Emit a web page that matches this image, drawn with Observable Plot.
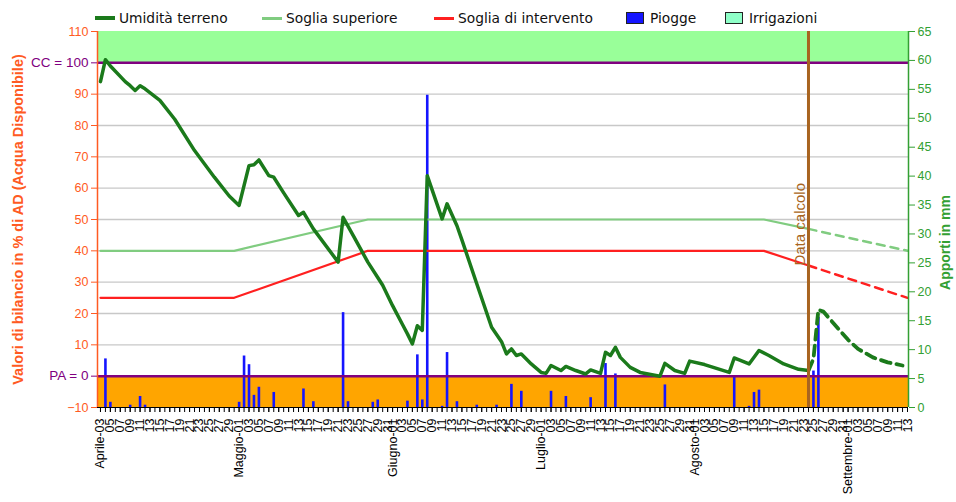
<!DOCTYPE html>
<html>
<head>
<meta charset="utf-8">
<script src="https://cdn.jsdelivr.net/npm/d3@7"></script>
<script src="https://cdn.jsdelivr.net/npm/@observablehq/plot@0.6"></script>
<style>
  body { margin: 0; background: #fff; font-family: "Liberation Sans", Arial, sans-serif; }
  #legend { position: relative; width: 956px; height: 26px; font-family: "DejaVu Sans", sans-serif; font-size: 13.8px; color: #111; }
  .li { position: absolute; top: 10px; height: 16px; display: flex; align-items: center; white-space: nowrap; }
  .sw-line { width: 20px; margin-right: 4px; }
  .sw-box { width: 16px; height: 10px; border: 1px solid #222; margin-right: 6px; }
  #chart svg { display: block; }
</style>
</head>
<body>
<div id="legend"></div>
<div id="chart"></div>
<script>
// ---------------- data ----------------
const moistDates = ["04-03","04-04","04-05","04-08","04-09","04-10","04-11","04-12","04-15","04-18","04-22","04-26","04-29",
  "05-01","05-03","05-04","05-05","05-07","05-08","05-10","05-13","05-14","05-16","05-21","05-22","05-24","05-27","05-29","05-30",
  "06-01","06-03","06-04","06-05","06-06","06-07","06-08","06-11","06-12","06-14","06-15","06-18","06-21","06-23","06-24","06-25","06-26","06-27","06-29",
  "07-01","07-02","07-03","07-05","07-06","07-08","07-10","07-11","07-13","07-14","07-15","07-16","07-17","07-19","07-21","07-25","07-26","07-28","07-30","07-31",
  "08-03","08-08","08-09","08-10","08-12","08-14","08-16","08-19","08-22","08-24"];
const moistValues = [94,101,99,94,92.7,91.2,92.7,91.7,88,82,72,63.5,57.5,
  54.5,67.2,67.5,69,64,63.5,58.5,51.3,52.3,47,36.4,50.7,45,36.4,31.5,29,
  22.5,16.5,13.5,10.3,16.1,14.6,64,50.2,55,48,43.5,29.5,15.6,11,7.1,8.7,6.6,7.1,3.9,
  1.2,0.9,3.4,1.8,3.1,1.8,0.7,2.0,0.9,7.6,6.6,9.2,6.0,2.8,1.2,0,4.1,1.8,0.9,4.8,
  3.7,1.2,5.8,5.2,3.9,8.2,6.6,3.9,2.2,1.8];

const fcDates  = ["08-24","08-25","08-26","08-27","08-29","09-01","09-03","09-06","09-09","09-12"];
const fcValues = [1.8,5.5,21.2,20.6,17,11.6,8.7,6,4.4,3.4];

const supDates   = ["04-03","04-30","05-27","08-15","08-24"];
const supValues  = [40,40,50,50,47];
const supFcDates = ["08-24","09-13"];
const supFcValues= [47,40];

const intDates   = ["04-03","04-30","05-27","08-15","08-24"];
const intValues  = [25,25,40,40,35.3];
const intFcDates = ["08-24","09-13"];
const intFcValues= [35.3,25];

const rainDates = ["04-04","04-05","04-09","04-11","04-12","05-01","05-02","05-03","05-04","05-05","05-08","05-14","05-16",
  "05-22","05-23","05-28","05-29","06-04","06-06","06-07","06-08","06-11","06-12","06-14","06-18","06-22","06-25","06-27",
  "07-03","07-06","07-11","07-14","07-16","07-26","08-09","08-12","08-13","08-14","08-25","08-26"];
const rainMm = [8.4,0.9,0.4,1.9,0.4,0.9,8.9,7.4,2.1,3.5,2.6,3.2,1.0,
  16.4,1.0,0.9,1.3,1.1,9.1,1.3,54,0.2,9.5,1.0,0.4,0.4,4.0,2.8,
  2.8,1.9,1.7,7.6,5.8,3.9,5.3,0.2,2.6,3.0,6.3,15.6];

const calcDate = "08-24";
const firstDate = "04-03";
const lastDate = "09-13";

const leftTicks = [-10,10,20,30,40,50,60,70,80,90,110];
const specialTicks = [0,100];
const specialLabels = ["PA = 0","CC = 100"];
const gridValues = [10,20,30,40,50,60,70,80,90];
const rightTicks = [0,5,10,15,20,25,30,35,40,45,50,55,60,65];
const bandLow = [-10,0];
const bandHigh = [100,110];
const monthNames = ["Gennaio","Febbraio","Marzo","Aprile","Maggio","Giugno","Luglio","Agosto","Settembre","Ottobre","Novembre","Dicembre"];

const legendNames = ["Umidità terreno","Soglia superiore","Soglia di intervento","Piogge","Irrigazioni"];

// ---------------- styles ----------------
const C = {
  moist: "#1b7a1b", sup: "#80cc80", int: "#ff2020", rain: "#1515ff", irr: "#8fffc8",
  top: "#99ff99", bottom: "#ffa500", purple: "#800080", grid: "#c8c8c8",
  left: "#ff5a22", right: "#33a033", brown: "#a86420"
};
const legendLayout = [
  {left: 95, kind: "line", color: C.moist, h: 4},
  {left: 262, kind: "line", color: C.sup, h: 3},
  {left: 434, kind: "line", color: C.int, h: 3},
  {left: 626, kind: "box", color: C.rain},
  {left: 725, kind: "box", color: C.irr}
];

// ---------------- helpers ----------------
const DAY = 864e5;
const parse = s => new Date(`2023-${s}T00:00:00Z`);
const xDomain = [new Date(+parse(firstDate) - 0.6 * DAY), new Date(+parse(lastDate) + 0.2 * DAY)];
const toLeft = mm => -10 + mm * 120 / 65;
const zip = (ds, vs) => ds.map((d, i) => ({date: parse(d), v: vs[i]}));

const moist = zip(moistDates, moistValues);
const fc = zip(fcDates, fcValues);
const sup = zip(supDates, supValues);
const supFc = zip(supFcDates, supFcValues);
const int = zip(intDates, intValues);
const intFc = zip(intFcDates, intFcValues);
const rain = zip(rainDates, rainMm);

const allDays = d3.utcDay.range(parse(firstDate), new Date(+parse(lastDate) + DAY));
const labelDays = allDays.filter(d => d.getUTCDate() % 2 === 1);
const fmtX = d => {
  const dd = String(d.getUTCDate()).padStart(2, "0");
  return (d.getUTCDate() === 1 || +d === +allDays[0]) ? `${monthNames[d.getUTCMonth()]}-${dd}` : dd;
};

// ---------------- legend ----------------
const leg = document.getElementById("legend");
legendNames.forEach((name, i) => {
  const L = legendLayout[i];
  const item = document.createElement("div");
  item.className = "li";
  item.style.left = L.left + "px";
  const sw = document.createElement("div");
  if (L.kind === "line") {
    sw.className = "sw-line";
    sw.style.height = L.h + "px";
    sw.style.background = L.color;
  } else {
    sw.className = "sw-box";
    sw.style.background = L.color;
  }
  const t = document.createElement("span");
  t.textContent = name;
  item.appendChild(sw);
  item.appendChild(t);
  leg.appendChild(item);
});

// ---------------- chart ----------------
const calc = parse(calcDate);
const calcLabelY = intValues[intValues.length - 1];

const chart = Plot.plot({
  width: 956,
  height: 476,
  marginLeft: 97,
  marginRight: 48,
  marginTop: 5,
  marginBottom: 95,
  x: {type: "utc", domain: xDomain},
  y: {domain: [-10, 110]},
  style: {fontFamily: "Liberation Sans, Arial, sans-serif", fontSize: "12px", background: "#fff", overflow: "visible"},
  marks: [
    Plot.rect([bandHigh], {x1: () => xDomain[0], x2: () => xDomain[1], y1: d => d[0], y2: d => d[1], fill: C.top}),
    Plot.rect([bandLow], {x1: () => xDomain[0], x2: () => xDomain[1], y1: d => d[0], y2: d => d[1], fill: C.bottom}),
    Plot.ruleY(gridValues, {stroke: C.grid, strokeWidth: 1.3}),
    Plot.ruleX(rain, {x: "date", y1: -10, y2: d => toLeft(d.v), stroke: C.rain, strokeWidth: 2.6}),
    Plot.ruleY(specialTicks, {stroke: C.purple, strokeWidth: 2.5}),
    Plot.line(sup, {x: "date", y: "v", stroke: C.sup, strokeWidth: 2.2}),
    Plot.line(supFc, {x: "date", y: "v", stroke: C.sup, strokeWidth: 2.5, strokeDasharray: "8,6"}),
    Plot.line(int, {x: "date", y: "v", stroke: C.int, strokeWidth: 2.2}),
    Plot.line(intFc, {x: "date", y: "v", stroke: C.int, strokeWidth: 2.5, strokeDasharray: "8,6"}),
    Plot.line(moist, {x: "date", y: "v", stroke: C.moist, strokeWidth: 3.5, strokeLinejoin: "round"}),
    Plot.line(fc, {x: "date", y: "v", stroke: C.moist, strokeWidth: 3.8, strokeDasharray: "10,6"}),
    Plot.ruleX([calc], {stroke: C.brown, strokeWidth: 3}),
    Plot.text([calc], {x: d => d, y: () => calcLabelY, text: () => "Data calcolo", rotate: -90, textAnchor: "start", dx: -8, fill: C.brown, fontSize: 15}),
    // axis lines
    Plot.ruleX([xDomain[0]], {stroke: C.left, strokeWidth: 1.5}),
    Plot.ruleX([xDomain[1]], {stroke: C.right, strokeWidth: 1.5}),
    Plot.ruleY([-10], {stroke: "#000", strokeWidth: 1}),
    // axes
    Plot.axisY(leftTicks, {anchor: "left", color: C.left, tickSize: 6, tickPadding: 3, fontSize: 12.5, label: null}),
    Plot.axisY(specialTicks, {anchor: "left", color: C.purple, tickSize: 6, tickPadding: 3, fontSize: 13.5, label: null,
      tickFormat: d => specialLabels[specialTicks.indexOf(d)]}),
    Plot.axisY(rightTicks.map(toLeft), {anchor: "right", color: C.right, tickSize: 6, tickPadding: 3, fontSize: 12.5, label: null,
      tickFormat: d => String(Math.round((d + 10) * 65 / 120))}),
    Plot.axisX(allDays, {tickSize: 5, tickFormat: () => "", label: null}),
    Plot.axisX(labelDays, {tickSize: 5, tickPadding: 6, tickRotate: -90, tickFormat: fmtX, fontSize: 12.5, label: null}),
    // axis titles
    Plot.text(["Valori di bilancio in % di AD (Acqua Disponibile)"], {text: d => d, frameAnchor: "left", textAnchor: "middle", dx: -79, rotate: -90,
      fill: C.left, fontWeight: "bold", fontSize: 14.5}),
    Plot.text(["Apporti in mm"], {text: d => d, frameAnchor: "right", textAnchor: "middle", dx: 37, dy: 23, rotate: -90,
      fill: C.right, fontWeight: "bold", fontSize: 14})
  ]
});
document.getElementById("chart").appendChild(chart);
</script>
</body>
</html>
